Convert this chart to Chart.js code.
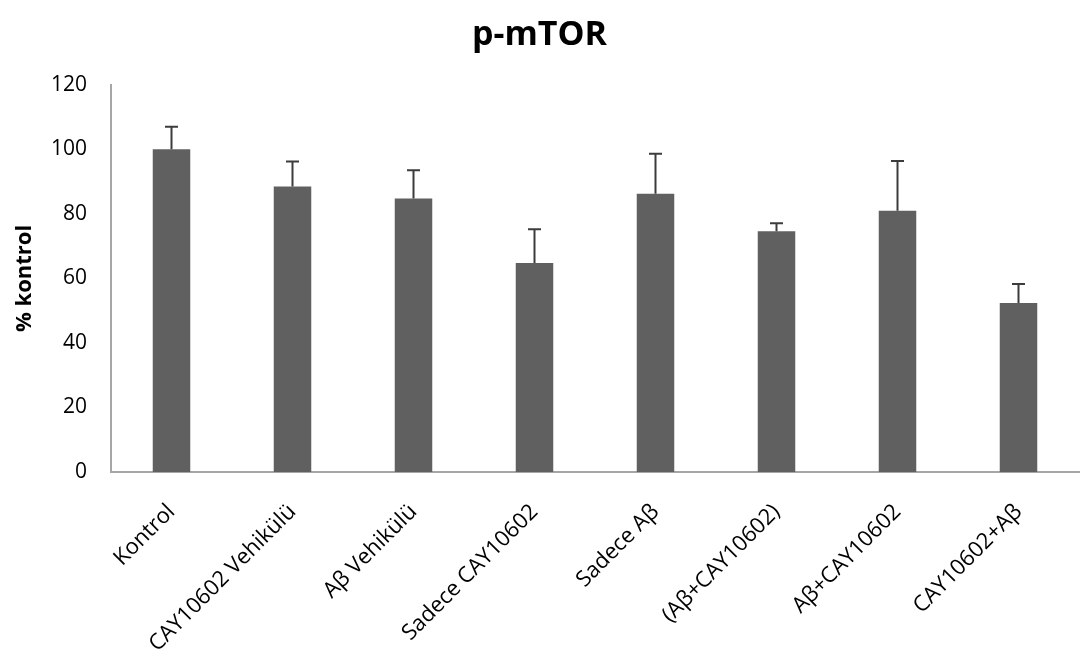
<!DOCTYPE html>
<html>
<head>
<meta charset="utf-8">
<script src="https://cdn.jsdelivr.net/npm/chart.js@4"></script>
<style>
  html, body { margin: 0; padding: 0; background: #fff; }
  #wrap { width: 1080px; height: 661px; }
</style>
</head>
<body>
<div id="wrap"><canvas id="chart"></canvas></div>
<script>
// values
const groups = ["Kontrol", "CAY10602 Vehikülü", "Aβ Vehikülü", "Sadece CAY10602",
                "Sadece Aβ", "(Aβ+CAY10602)", "Aβ+CAY10602", "CAY10602+Aβ"];
const means = [100, 88.5, 84.8, 64.8, 86.2, 74.6, 81.0, 52.4];
const errors = [7.0, 7.7, 8.7, 10.4, 12.4, 2.5, 15.4, 5.9];
const yTicks = [0, 20, 40, 60, 80, 100, 120];

const fontFam = "'Open Sans', 'Noto Sans', sans-serif";

// draw the +SD whiskers on top of each bar
const errorBars = {
  id: 'errorBars',
  afterDatasetsDraw(chart) {
    const ctx = chart.ctx;
    const meta = chart.getDatasetMeta(0);
    const yScale = chart.scales.y;
    ctx.save();
    ctx.strokeStyle = '#3c3c3c';
    ctx.lineWidth = 2;
    meta.data.forEach(function(bar, i) {
      let x = bar.x;
      let yTop = yScale.getPixelForValue(means[i] + errors[i]);
      let yBase = yScale.getPixelForValue(means[i]);
      ctx.beginPath();
      ctx.moveTo(x, yBase);
      ctx.lineTo(x, yTop);
      ctx.moveTo(x - 6.5, yTop);
      ctx.lineTo(x + 6.5, yTop);
      ctx.stroke();
    });
    ctx.restore();
  }
};

new Chart(document.getElementById('chart'), {
  type: 'bar',
  data: {
    labels: groups,
    datasets: [{
      data: means,
      backgroundColor: '#606060',
      barPercentage: 0.31,
      categoryPercentage: 1.0
    }]
  },
  options: {
    responsive: true,
    maintainAspectRatio: false,
    animation: false,
    layout: { padding: { left: 0, right: 1, top: 0, bottom: 0 } },
    plugins: {
      legend: { display: false },
      tooltip: { enabled: false },
      title: {
        display: true,
        text: 'p-mTOR',
        color: '#000',
        font: { family: fontFam, size: 34, weight: 'bold' },
        padding: { top: 15, bottom: 29 }
      }
    },
    scales: {
      x: {
        afterFit(scale) { scale.height = 189; },
        grid: { display: false, drawTicks: false },
        border: { display: true, color: '#a6a6a6', width: 2 },
        ticks: {
          color: '#000',
          font: { family: fontFam, size: 22 },
          maxRotation: 45,
          minRotation: 45,
          padding: 27,
          autoSkip: false
        }
      },
      y: {
        min: 0,
        max: 120,
        afterBuildTicks(scale) {
          scale.ticks = yTicks.map(function(v) { return { value: v }; });
        },
        afterFit(scale) { scale.width = 111; },
        grid: { display: false, drawTicks: false },
        border: { display: true, color: '#a6a6a6', width: 2 },
        ticks: {
          color: '#000',
          font: { family: fontFam, size: 21 },
          padding: 24
        },
        title: {
          display: true,
          text: '% kontrol',
          color: '#000',
          font: { family: fontFam, size: 22, weight: 'bold' },
          padding: { top: 12, bottom: 4 }
        }
      }
    }
  },
  plugins: [errorBars]
});
</script>
</body>
</html>
